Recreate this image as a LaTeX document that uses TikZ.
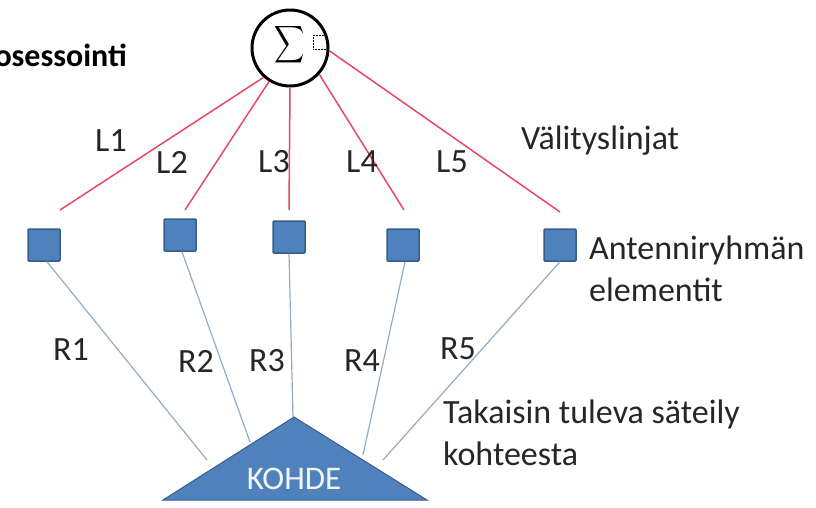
\documentclass[tikz,border=0pt]{standalone}
\usepackage{fontspec}
\setmainfont{Carlito}
\definecolor{redline}{RGB}{232,72,102}
\definecolor{rline}{RGB}{150,170,198}
\definecolor{boxfill}{RGB}{79,129,189}
\definecolor{boxdraw}{RGB}{56,93,138}
\definecolor{txt}{RGB}{38,38,38}
\tikzset{
  elem/.style={draw=boxdraw, fill=boxfill, line width=1.5pt, minimum size=32pt, inner sep=0pt, rounded corners=1pt},
  redl/.style={draw=redline, line width=1.5pt},
  rl/.style={draw=rline, line width=1.2pt},
  lbl/.style={text=txt, font=\fontsize{34}{42}\selectfont, inner sep=0pt},
}
\begin{document}
\begin{tikzpicture}[x=1pt,y=-1pt]
\useasboundingbox (0,0) rectangle (816,507);
\clip (0,0) rectangle (816,507);
% summing node
\node[circle, draw=black, line width=3pt, minimum size=76pt, inner sep=0pt] (sum) at (290,48) {};
\node[inner sep=0pt, xscale=2.1, yscale=2.6] (sig) at (290,45) {$\displaystyle\sum$};
\node[draw=black, densely dotted, line width=0.5pt, minimum size=14pt, inner sep=0pt] (dot) at (320,42) {};
\node[anchor=east, inner sep=0pt, font=\bfseries\fontsize{32}{36}\selectfont, text=black] (proc) at (127,55) {Prosessointi};
% elements
\node[elem] (e1) at (44,245) {};
\node[elem] (e2) at (180,235) {};
\node[elem] (e3) at (289,237) {};
\node[elem] (e4) at (403,245) {};
\node[elem] (e5) at (560,245) {};
% free ends of red lines
\coordinate (c1) at (60,210);
\coordinate (c2) at (185,210);
\coordinate (c3) at (289,210);
\coordinate (c4) at (404,210);
\coordinate (c5) at (560,212);
\draw[redl] (sum.228) -- (c1);
\draw[redl] (sum.238) -- (c2);
\draw[redl] (sum.270) -- (c3);
\draw[redl] (sum.318) -- (c4);
\draw[redl] (sum.-4) -- (c5);
% target
\coordinate (apex) at (294,417);
\coordinate (bl) at (163,500);
\coordinate (br) at (427,500);
\filldraw[fill=boxfill, draw=boxdraw, line width=1pt] (apex) -- (br) -- (bl) -- cycle;
\node[text=white!92!boxfill, font=\fontsize{33}{36}\selectfont, inner sep=0pt] (kohde) at (294,479) {KOHDE};
\coordinate (t1) at (207,460);
\coordinate (t2) at (250,442);
\coordinate (t3) at (293,417);
\coordinate (t4) at (363,455);
\coordinate (t5) at (383,460);
\draw[rl] (e1.south) ++(3,0) coordinate (s1) (s1) -- (t1);
\draw[rl] (e2.south) ++(2,0) coordinate (s2) (s2) -- (t2);
\draw[rl] (e3.south) -- (t3);
\draw[rl] (e4.south) ++(2,0) coordinate (s4) (s4) -- (t4);
\draw[rl] (e5.south) -- (t5);
% labels
\node[lbl] (l1) at (111,141) {L1};
\node[lbl] (l2) at (172,162) {L2};
\node[lbl] (l3) at (274,162) {L3};
\node[lbl] (l4) at (362,162) {L4};
\node[lbl] (l5) at (452,162) {L5};
\node[lbl, anchor=west] (vl) at (521,141) {Välityslinjat};
\node[lbl, anchor=west, align=left] (ae) at (589,269) {Antenniryhmän\\elementit};
\node[lbl] (r1) at (71,350) {R1};
\node[lbl] (r2) at (196,361) {R2};
\node[lbl] (r3) at (267,361) {R3};
\node[lbl] (r4) at (362,361) {R4};
\node[lbl] (r5) at (458,349) {R5};
\node[lbl, anchor=west, align=left] (ts) at (443,433) {Takaisin tuleva säteily\\kohteesta};
\end{tikzpicture}
\end{document}
